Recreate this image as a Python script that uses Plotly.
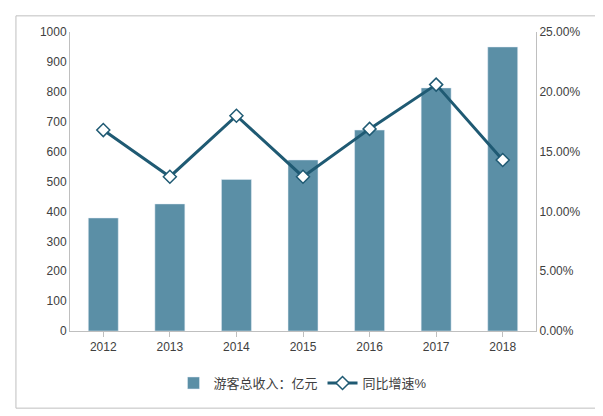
import plotly.graph_objects as go

years = ['2012', '2013', '2014', '2015', '2016', '2017', '2018']
income = [378, 425, 507, 572, 672, 813, 950]
growth = [0.168, 0.129, 0.180, 0.129, 0.169, 0.206, 0.143]

fig = go.Figure()
fig.add_trace(go.Bar(x=years, y=income, name='游客总收入：亿元',
                     marker_color='#5b8fa6', width=0.45))
fig.add_trace(go.Scatter(x=years, y=growth, name='同比增速%', yaxis='y2',
                         mode='lines+markers',
                         line=dict(color='#1f5a73', width=3),
                         marker=dict(symbol='diamond', size=10, color='white',
                                     line=dict(color='#1f5a73', width=1.5))))

fig.update_layout(
    width=603, height=416,
    margin=dict(l=62, r=75, t=24, b=93, autoexpand=False),
    paper_bgcolor='white', plot_bgcolor='white',
    font=dict(family='Liberation Sans, Noto Sans CJK SC', size=12, color='#404040'),
    showlegend=True,
    legend=dict(orientation='h', x=0.5, xanchor='center', y=-0.174, yanchor='middle',
                font=dict(size=13)),
    xaxis=dict(showline=True, linecolor='#bfbfbf', ticks='outside',
               tickcolor='#bfbfbf'),
    yaxis=dict(range=[0, 1000], dtick=100, showgrid=False, showline=True,
               linecolor='#bfbfbf', zeroline=False),
    yaxis2=dict(range=[0, 0.25], dtick=0.05, tickformat='.2%', overlaying='y',
                side='right', showgrid=False, showline=True, linecolor='#bfbfbf',
                zeroline=False),
    shapes=[dict(type='rect', xref='paper', yref='paper', x0=-0.116, x1=1.133,
                 y0=-0.258, y1=1.054, line=dict(color='#bfbfbf', width=1))],
)

fig.write_html('out.html')
